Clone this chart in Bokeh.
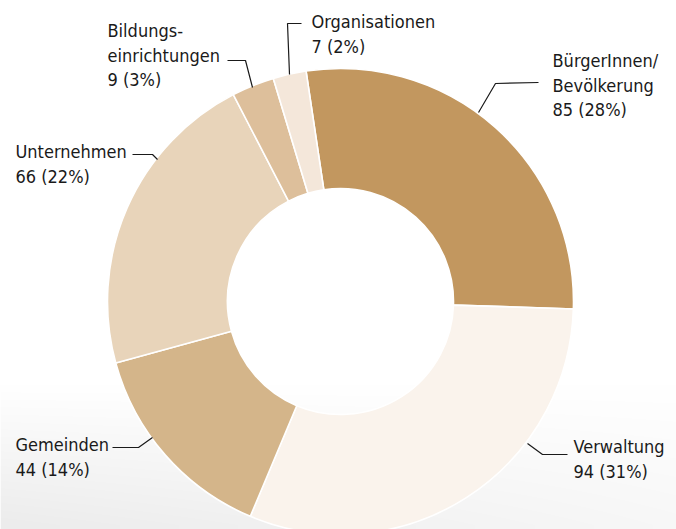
import numpy as np
from bokeh.plotting import figure
from bokeh.models import Range1d, ColumnDataSource
from bokeh.core.properties import value
from bokeh.embed import file_html
from bokeh.resources import INLINE

# ---------------- data ----------------
categories = ["BürgerInnen/Bevölkerung", "Verwaltung", "Gemeinden",
              "Unternehmen", "Bildungseinrichtungen", "Organisationen"]
values = [85, 94, 44, 66, 9, 7]
name_lines = [["BürgerInnen/", "Bevölkerung"], ["Verwaltung"], ["Gemeinden"],
              ["Unternehmen"], ["Bildungs-", "einrichtungen"], ["Organisationen"]]
colors = ["#C2975F", "#FAF3EC", "#D4B58A", "#E8D4BA", "#DDBF9B", "#F4E7DA"]

# ---------------- layout (reference pixel space) ----------------
W, H, OFF = 676, 529, 0
CX, CY = 340, 301
R_OUT, R_IN = 233, 113
START_DEG = -8.5          # clockwise from 12 o'clock
FONT = "DejaVu Sans Condensed, Roboto"
FONT_SIZE = "18px"
LINE_GAP = 24.5
# label anchor: left x, first baseline
label_pos = [(552, 60), (573, 446), (15, 444), (15, 151), (107, 30), (311, 21)]
# connector polylines
connectors = [
    [(478, 112), (495, 83), (538, 82)],
    [(527, 443), (542, 454), (567, 454)],
    [(152, 437), (138, 447), (112, 447)],
    [(157, 159), (152, 154), (132, 154)],
    [(252, 87), (245, 60), (227, 60)],
    [(289, 74), (287, 23), (301, 23)],
]


def dx(x):
    return x - OFF


def dy(y):
    return H - (y - OFF)


p = figure(width=W, height=H, x_range=Range1d(0, W), y_range=Range1d(0, H),
           output_backend="svg", toolbar_location=None, min_border=0)
p.axis.visible = False
p.grid.visible = False
p.outline_line_color = None
p.background_fill_color = "white"
p.border_fill_color = "white"

# subtle background shading (bottom-left)
img = np.empty((H, W), dtype=np.uint32)
view = img.view(dtype=np.uint8).reshape((H, W, 4))
jj, ii = np.mgrid[0:H, 0:W]
Yref = OFF + (H - jj - 0.5)
Xref = OFF + ii + 0.5
t = np.clip((Yref - 385) / 140.0, 0, 1)
g = 255 - 19 * t * (1 - 0.6 * Xref / 676)
view[:, :, 0] = g.astype(np.uint8)
view[:, :, 1] = g.astype(np.uint8)
view[:, :, 2] = g.astype(np.uint8)
view[:, :, 3] = 255
p.image_rgba(image=[img], x=0, y=0, dw=W, dh=H)

# wedges
total = float(sum(values))
cum = np.cumsum([0] + values)
theta_s = START_DEG + 360.0 * cum[:-1] / total
theta_e = START_DEG + 360.0 * cum[1:] / total
src = ColumnDataSource(dict(
    start=np.deg2rad(90 - theta_s), end=np.deg2rad(90 - theta_e),
    color=colors, name=categories, value=values))
p.annular_wedge(x=dx(CX), y=dy(CY), inner_radius=R_IN, outer_radius=R_OUT,
                start_angle="start", end_angle="end", direction="clock",
                fill_color="color", line_color="white", line_width=1.6,
                source=src)

# connectors
p.multi_line(xs=[[dx(a) for a, b in c] for c in connectors],
             ys=[[dy(b) for a, b in c] for c in connectors],
             line_color="#1a1a1a", line_width=1.2)

# labels
tx, ty, tt = [], [], []
for lines, v, (lx, ly) in zip(name_lines, values, label_pos):
    pct = round(100 * v / total)
    all_lines = lines + [f"{v} ({pct}%)"]
    for k, s in enumerate(all_lines):
        tx.append(dx(lx))
        ty.append(dy(ly + k * LINE_GAP))
        tt.append(s)
p.text(x=tx, y=ty, text=tt, text_font=value(FONT), text_font_size=FONT_SIZE,
       text_align="left", text_baseline="alphabetic", text_color="#1a1a1a")

open("out.html", "w").write(file_html(p, INLINE))
